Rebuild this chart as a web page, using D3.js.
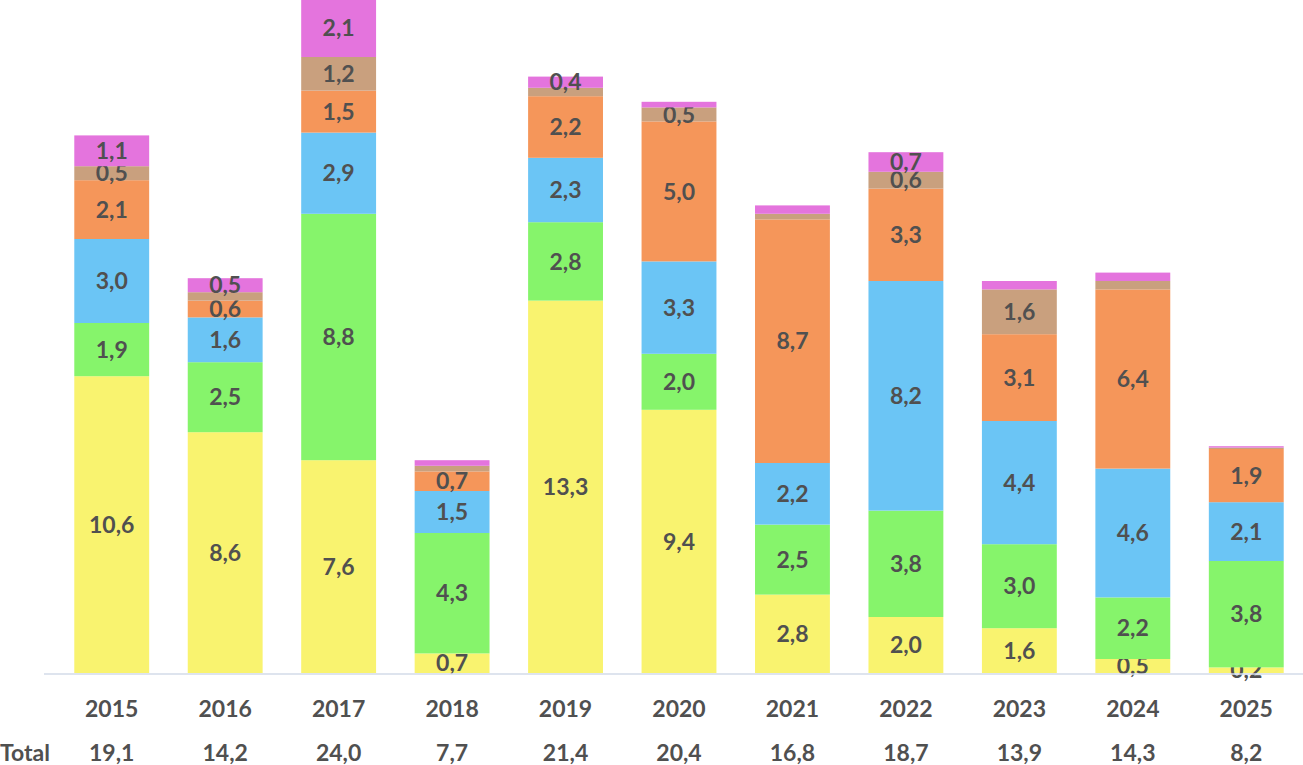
<!DOCTYPE html>
<html>
<head>
<meta charset="utf-8">
<script src="https://cdn.jsdelivr.net/npm/d3@7/dist/d3.min.js"></script>
<style>
  html, body { margin: 0; padding: 0; background: #fff; }
  svg { display: block; }
</style>
</head>
<body>
<div id="chart"></div>
<script>
// Data (decimal comma in labels).
var years = ['2015', '2016', '2017', '2018', '2019', '2020', '2021', '2022', '2023', '2024', '2025'];
var s1 = [10.6, 8.6, 7.6, 0.7, 13.3, 9.4, 2.8, 2.0, 1.6, 0.5, 0.2];   // yellow
var s2 = [1.9, 2.5, 8.8, 4.3, 2.8, 2.0, 2.5, 3.8, 3.0, 2.2, 3.8];     // green
var s3 = [3.0, 1.6, 2.9, 1.5, 2.3, 3.3, 2.2, 8.2, 4.4, 4.6, 2.1];     // blue
var s4 = [2.1, 0.6, 1.5, 0.7, 2.2, 5.0, 8.7, 3.3, 3.1, 6.4, 1.9];     // orange
var s5 = [0.5, 0.3, 1.2, 0.2, 0.3, 0.5, 0.2, 0.6, 1.6, 0.3, 0.05];    // tan
var s6 = [1.1, 0.5, 2.1, 0.2, 0.4, 0.2, 0.3, 0.7, 0.3, 0.3, 0.05];    // pink
var totals = ['19,1', '14,2', '24,0', '7,7', '21,4', '20,4', '16,8', '18,7', '13,9', '14,3', '8,2'];

var seriesKeys = ['s1', 's2', 's3', 's4', 's5', 's6'];
var colors = ['#f9f36f', '#86f46b', '#6bc5f5', '#f5965a', '#c9a07e', '#e474dd'];

var width = 1303, height = 765;
var font = 'Lato, "Open Sans", sans-serif';
var fontSize = '23px';
var textColor = '#505050';

var table = years.map(function(y, i) {
  return { year: y, s1: s1[i], s2: s2[i], s3: s3[i], s4: s4[i], s5: s5[i], s6: s6[i] };
});

var stack = d3.stack().keys(seriesKeys)(table);

var x = d3.scaleBand()
  .domain(years)
  .range([55, 1303])
  .paddingInner(0.34)
  .paddingOuter(0.17);

var y = d3.scaleLinear()
  .domain([0, 24])
  .range([673, 1]);

var svg = d3.select('#chart').append('svg')
  .attr('width', width)
  .attr('height', height);

// Stacked bars
var layers = svg.selectAll('.layer').data(stack).enter()
  .append('g')
    .classed('layer', true)
    .attr('fill', function(d, i) { return colors[i]; });

layers.selectAll('rect').data(function(d) { return d; }).enter()
  .append('rect')
    .attr('x', function(d) { return x(d.data.year); })
    .attr('y', function(d) { return y(d[1]); })
    .attr('width', x.bandwidth())
    .attr('height', function(d) { return y(d[0]) - y(d[1]); });

// Baseline
svg.append('line')
  .attr('x1', 44)
  .attr('x2', width)
  .attr('y1', y(0) + 1)
  .attr('y2', y(0) + 1)
  .attr('stroke', '#d3dbe8')
  .attr('stroke-width', 1.5);

// Segment labels (small slices are left unlabelled, except the bottom series)
var fmt = function(v) { return d3.format('.1f')(v).replace('.', ','); };

layers.each(function(layer, li) {
  d3.select(this).selectAll('text')
    .data(layer.filter(function(d) { return li === 0 || (d[1] - d[0]) >= 0.395; }))
    .enter()
    .append('text')
      .text(function(d) { return fmt(d[1] - d[0]); })
      .attr('x', function(d) { return x(d.data.year) + x.bandwidth() / 2; })
      .attr('y', function(d) { return (y(d[0]) + y(d[1])) / 2; })
      .attr('dy', '0.36em')
      .attr('text-anchor', 'middle')
      .attr('fill', textColor)
      .style('font-family', font)
      .style('font-weight', 'bold')
      .style('font-size', fontSize);
});

// Year labels
svg.append('g').selectAll('text').data(years).enter()
  .append('text')
    .text(function(d) { return d; })
    .attr('x', function(d) { return x(d) + x.bandwidth() / 2; })
    .attr('y', 717)
    .attr('text-anchor', 'middle')
    .attr('fill', textColor)
    .style('font-family', font)
    .style('font-weight', 'bold')
    .style('font-size', fontSize);

// Totals row
svg.append('text')
  .text('Total')
  .attr('x', 0)
  .attr('y', 761)
  .attr('fill', textColor)
  .style('font-family', font)
  .style('font-weight', 'bold')
  .style('font-size', fontSize);

svg.append('g').selectAll('text').data(totals).enter()
  .append('text')
    .text(function(d) { return d; })
    .attr('x', function(d, i) { return x(years[i]) + x.bandwidth() / 2; })
    .attr('y', 761)
    .attr('text-anchor', 'middle')
    .attr('fill', textColor)
    .style('font-family', font)
    .style('font-weight', 'bold')
    .style('font-size', fontSize);
</script>
</body>
</html>
